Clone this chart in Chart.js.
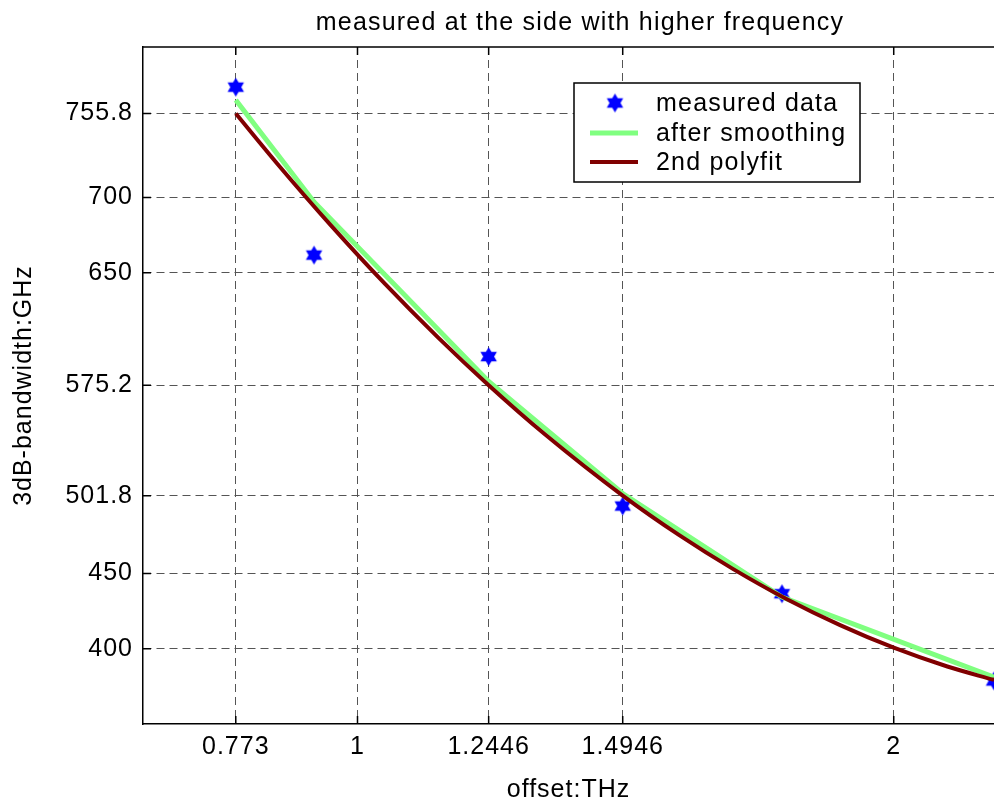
<!DOCTYPE html>
<html>
<head>
<meta charset="utf-8">
<script src="https://cdn.jsdelivr.net/npm/chart.js@4/dist/chart.umd.min.js"></script>
<style>
    body { margin: 0; background: #fff; }
</style>
</head>
<body>
<canvas id="bwChart" width="994" height="801"></canvas>
<script>
// offset (THz) at which the bandwidth was measured
const offsetTHz = [0.773, 0.919, 1.2446, 1.4946, 1.7916, 2.187];
// 3dB bandwidth (GHz)
const measuredGHz = [773.3, 661.7, 594.2, 494.9, 436.6, 378.6];
const smoothedGHz = [764.8, 697.0, 577.7, 503.2, 434.4, 381.2];
// 2nd order polyfit curve
const fitOffsetTHz = [0.773, 0.85, 0.95, 1.05, 1.15, 1.2446, 1.35, 1.4946, 1.6, 1.7, 1.8, 1.9, 2.0, 2.1, 2.187];
const fitGHz = [755.8, 722.6, 681.6, 643.0, 607.0, 575.2, 542.4, 501.8, 475.5, 453.1, 433.1, 415.7, 400.7, 388.2, 379.3];

const xTicks = [0.773, 1, 1.2446, 1.4946, 2];
const yTicks = [400, 450, 501.8, 575.2, 650, 700, 755.8];

const FONT = '"Liberation Sans", Arial, Helvetica, sans-serif';
const FONT_SIZE = 25;

Chart.defaults.font.family = FONT;
Chart.defaults.font.size = FONT_SIZE;
Chart.defaults.color = '#000';

// six pointed star marker
function makeHexagram(r, color) {
    const c = document.createElement('canvas');
    const s = Math.ceil(r * 2 + 2);
    c.width = s; c.height = s;
    const g = c.getContext('2d');
    const cx = s / 2, cy = s / 2;
    g.fillStyle = color;
    [-Math.PI / 2, Math.PI / 2].forEach(function(a0) {
        g.beginPath();
        for (let k = 0; k < 3; k++) {
            const a = a0 + k * 2 * Math.PI / 3;
            const px = cx + r * Math.cos(a), py = cy + r * Math.sin(a);
            if (k === 0) g.moveTo(px, py); else g.lineTo(px, py);
        }
        g.closePath();
        g.fill();
    });
    return c;
}
const starMarker = makeHexagram(9.5, '#0000ff');

function toXY(xs, ys) {
    return xs.map(function(x, i) { return { x: x, y: ys[i] }; });
}

// wider letter spacing for all text
const spacing = {
    id: 'spacing',
    beforeDraw: function(chart) {
        chart.ctx.letterSpacing = '1px';
    }
};

// frame, inner tick marks, title and legend box
const decorations = {
    id: 'decorations',
    afterDraw: function(chart) {
        const ctx = chart.ctx;
        const a = chart.chartArea;
        const xs = chart.scales.x, ys = chart.scales.y;
        ctx.save();
        ctx.letterSpacing = '1.2px';
        ctx.strokeStyle = '#000';
        ctx.lineWidth = 1.5;
        ctx.beginPath();
        ctx.moveTo(a.left, a.top);
        ctx.lineTo(a.right, a.top);
        xTicks.forEach(function(v) {
            const px = xs.getPixelForValue(v);
            ctx.moveTo(px, a.bottom); ctx.lineTo(px, a.bottom - 8);
            ctx.moveTo(px, a.top); ctx.lineTo(px, a.top + 8);
        });
        yTicks.forEach(function(v) {
            const py = ys.getPixelForValue(v);
            ctx.moveTo(a.left, py); ctx.lineTo(a.left + 8, py);
        });
        ctx.stroke();

        // title
        ctx.fillStyle = '#000';
        ctx.font = FONT_SIZE + 'px ' + FONT;
        ctx.textAlign = 'center';
        ctx.textBaseline = 'alphabetic';
        ctx.fillText('measured at the side with higher frequency', 580, 30);

        // legend
        const ds = chart.data.datasets;
        const bx = 574, by = 83, bw = 286, bh = 99;
        ctx.fillStyle = '#fff';
        ctx.fillRect(bx, by, bw, bh);
        ctx.lineWidth = 1.5;
        ctx.strokeStyle = '#000';
        ctx.strokeRect(bx, by, bw, bh);
        const rows = [103, 133, 162];
        ds.forEach(function(d, i) {
            const ry = rows[i];
            if (d.showLine === false) {
                ctx.drawImage(starMarker, 615 - starMarker.width / 2, ry - starMarker.height / 2);
            } else {
                ctx.strokeStyle = d.borderColor;
                ctx.lineWidth = d.borderWidth;
                ctx.beginPath();
                ctx.moveTo(590, ry); ctx.lineTo(638, ry);
                ctx.stroke();
            }
            ctx.fillStyle = '#000';
            ctx.textAlign = 'left';
            ctx.textBaseline = 'middle';
            ctx.fillText(d.label, 656, ry + 1);
        });
        ctx.restore();
    }
};

const ctx = document.getElementById('bwChart').getContext('2d');
const bwChart = new Chart(ctx, {
    type: 'line',
    data: {
        datasets: [{
            label: 'measured data',
            data: toXY(offsetTHz, measuredGHz),
            showLine: false,
            pointStyle: starMarker,
            pointRadius: 9,
            order: 3
        }, {
            label: 'after smoothing',
            data: toXY(offsetTHz, smoothedGHz),
            borderColor: '#80ff80',
            borderWidth: 5,
            pointRadius: 0,
            tension: 0,
            order: 2
        }, {
            label: '2nd polyfit',
            data: toXY(fitOffsetTHz, fitGHz),
            borderColor: '#800000',
            borderWidth: 4,
            pointRadius: 0,
            cubicInterpolationMode: 'monotone',
            order: 1
        }]
    },
    options: {
        responsive: false,
        animation: false,
        devicePixelRatio: 1,
        layout: { autoPadding: false, padding: { top: 47, left: 0, right: 0, bottom: 0 } },
        plugins: {
            legend: { display: false },
            tooltip: { enabled: false }
        },
        scales: {
            x: {
                type: 'linear',
                min: 0.6,
                max: 2.187,
                afterBuildTicks: function(scale) {
                    scale.ticks = xTicks.map(function(v) { return { value: v }; });
                },
                afterFit: function(scale) { scale.height = 77; },
                ticks: {
                    padding: 8,
                    maxRotation: 0,
                    callback: function(value) { return String(value); }
                },
                grid: { color: '#555', lineWidth: 1, drawTicks: false },
                border: { display: true, color: '#000', width: 1.5, dash: [8, 5] },
                title: {
                    display: true,
                    text: 'offset:THz',
                    padding: { top: 0, bottom: -4 }
                }
            },
            y: {
                min: 350,
                max: 800,
                afterBuildTicks: function(scale) {
                    scale.ticks = yTicks.map(function(v) { return { value: v }; });
                },
                afterFit: function(scale) { scale.width = 143; },
                ticks: {
                    padding: 10,
                    callback: function(value) { return String(value); }
                },
                grid: { color: '#555', lineWidth: 1, drawTicks: false },
                border: { display: true, color: '#000', width: 1.5, dash: [8, 5] },
                title: {
                    display: true,
                    text: '3dB-bandwidth:GHz',
                    padding: { top: 9, bottom: 0 }
                }
            }
        }
    },
    plugins: [spacing, decorations]
});
</script>
</body>
</html>
